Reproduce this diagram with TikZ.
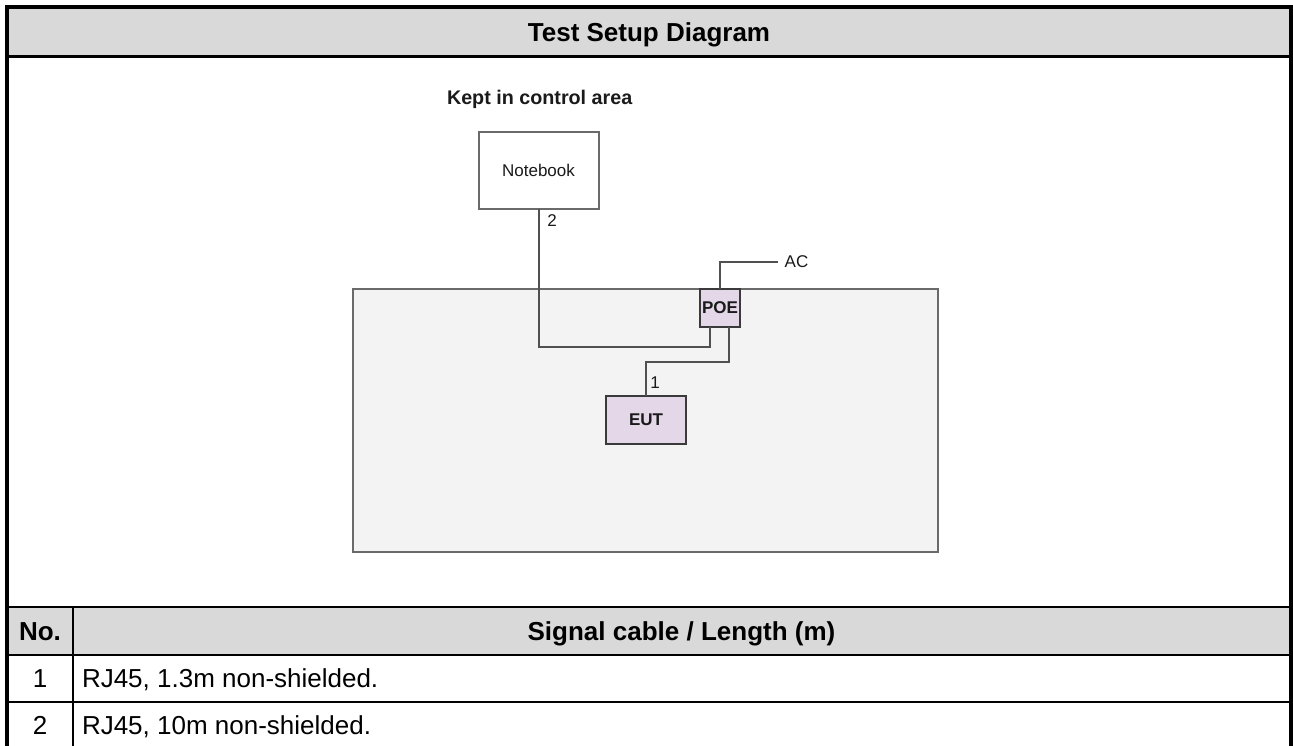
\documentclass[tikz,border=0pt]{standalone}
\usepackage{fontspec}
\setmainfont{Liberation Sans}
\definecolor{hdrgray}{HTML}{D9D9D9}
\definecolor{zonefill}{HTML}{F3F3F3}
\definecolor{zoneline}{HTML}{6A6A6A}
\definecolor{eqfill}{HTML}{E4D7E8}
\definecolor{eqline}{HTML}{3A3A3A}
\definecolor{cablecol}{HTML}{505050}
\definecolor{inktext}{HTML}{1A1A1A}
\begin{document}
\begin{tikzpicture}[x=0.75pt,y=-0.75pt,
  tabletext/.style={inner sep=0pt,outer sep=0pt,font=\fontsize{19.5}{23}\selectfont},
  tablebold/.style={tabletext,font=\fontsize{19.5}{23}\selectfont\bfseries},
  frameline/.style={line width=2.6pt,black},
  gridline/.style={line width=1.5pt,black},
  zonebox/.style={draw=zoneline,fill=zonefill,line width=1.5pt,inner sep=0pt,outer sep=0pt},
  pcbox/.style={draw=zoneline,fill=white,line width=1.5pt,inner sep=0pt,outer sep=0pt,
    text=inktext,font=\fontsize{12.75}{15}\selectfont},
  eqbox/.style={draw=eqline,fill=eqfill,line width=1.3pt,inner sep=0pt,outer sep=0pt,
    text=inktext,font=\fontsize{12.75}{15}\selectfont\bfseries},
  cable/.style={draw=cablecol,line width=1.5pt},
  smalllabel/.style={inner sep=0pt,outer sep=0pt,text=inktext,font=\fontsize{12.75}{15}\selectfont}
]
\useasboundingbox (0,0) rectangle (1293,746);
\fill[white] (0,0) rectangle (1293,746);

% ---------- table backgrounds ----------
\fill[hdrgray] (7,7) rectangle (1291,56.5);
\fill[hdrgray] (7,607) rectangle (1291,655);

% ---------- table lines ----------
\draw[line width=2.2pt] (7,56.5) -- (1291,56.5);
\draw[line width=1.8pt] (7,607) -- (1291,607);
\draw[gridline] (7,655) -- (1291,655);
\draw[gridline] (7,702) -- (1291,702);
\draw[gridline] (72.5,607) -- (72.5,746);
\draw[frameline] (7,746) -- (7,7) -- (1291,7) -- (1291,746);

% ---------- table texts ----------
\node[tablebold,anchor=base] (title) at (649,41.3) {Test Setup Diagram};
\node[tablebold,anchor=base] (nohdr) at (40,640.3) {No.};
\node[tablebold,anchor=base] (cablehdr) at (681.5,640.3) {Signal cable / Length (m)};
\node[tabletext,anchor=base] (no1) at (40,687.3) {1};
\node[tabletext,anchor=base west] (row1) at (82,687.3) {RJ45, 1.3m non-shielded.};
\node[tabletext,anchor=base] (no2) at (40,734.3) {2};
\node[tabletext,anchor=base west] (row2) at (82,734.3) {RJ45, 10m non-shielded.};

% ---------- diagram ----------
\node[smalllabel,anchor=base west,font=\fontsize{14.8}{17}\selectfont\bfseries] (kept) at (447,104) {Kept in control area};

\node[zonebox,minimum width=438.75pt,minimum height=197.25pt] (zone) at (645.5,420.5) {};
\node[pcbox,minimum width=90pt,minimum height=57.75pt] (nb) at (538.5,170.5) {Notebook};
\node[eqbox,minimum width=30pt,minimum height=28.5pt] (poe) at (720,308) {POE};
\node[eqbox,minimum width=60pt,minimum height=36pt] (eut) at (646,420) {EUT};

\node[smalllabel,anchor=west,inner xsep=5pt] (ac) at (778,261.5) {AC};
\node[smalllabel] (lbltwo) at (552,221) {2};
\node[smalllabel] (lblone) at (655,383) {1};

\coordinate (poeleft) at ([xshift=7.5pt]poe.south west);
\coordinate (poeright) at ([xshift=-8.25pt]poe.south east);

% cable 2: notebook -> POE
\draw[cable] (nb.south) -- (nb.south |- 0,347) -| (poeleft);
% cable 1: POE -> EUT
\draw[cable] (poeright) -- ++(0,35) -| (eut.north);
% AC feed
\draw[cable] (poe.north) |- (ac.west);
\end{tikzpicture}
\end{document}
